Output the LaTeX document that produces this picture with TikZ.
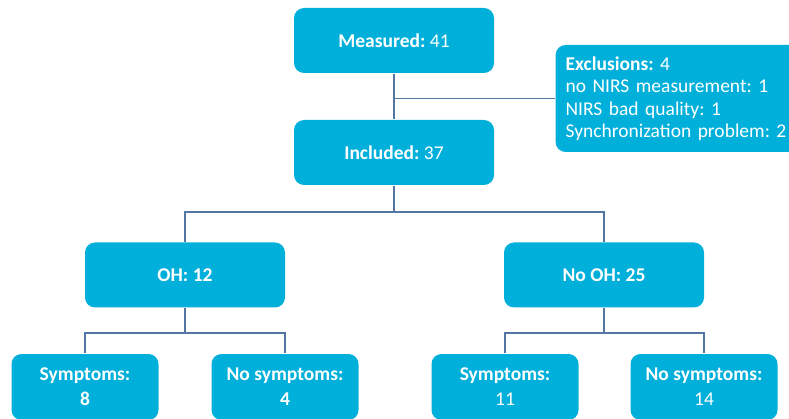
\documentclass[tikz,border=0pt]{standalone}
\usepackage{fontspec}
\setmainfont{Carlito}
\usepackage{xcolor}
\usetikzlibrary{positioning}
\definecolor{boxblue}{RGB}{0,176,219}
\definecolor{linkblue}{RGB}{84,118,165}
\frenchspacing

\begin{document}
\begin{tikzpicture}[x=1pt,y=-1pt,draw=linkblue,line width=1.2pt]
    \tikzstyle{box}=[rectangle,rounded corners=10pt,fill=boxblue,text=white,minimum width=200pt,minimum height=65pt,inner sep=2pt,align=center,font=\fontsize{19.5}{25}\selectfont]
    \tikzstyle{leaf}=[box, minimum width=147pt, minimum height=66pt]
    \tikzstyle{note}=[box, minimum width=0pt, minimum height=107pt, align=left, text width=240pt, inner xsep=10pt, inner ysep=4pt, font=\fontsize{19.5}{22.5}\selectfont]

    \useasboundingbox (0,0) rectangle (789,419);

    \node[box] (meas) at (394,40.5) {\textbf{Measured:} 41};
    \node[box] (incl) at (394,152.5) {\textbf{Included:} 37};
    \node[note, anchor=west] (excl) at (555,98.5) {\textbf{Exclusions:} 4\\no NIRS measurement: 1\\NIRS bad quality: 1\\Synchronization problem: 2};

    \node[box] (oh) at (185,275) {\textbf{OH: 12}};
    \node[box] (nooh) at (604,275) {\textbf{No OH: 25}};

    \node[leaf] (oh-s) at (85,387) {\textbf{Symptoms:}\\\textbf{8}};
    \node[leaf] (oh-n) at (285,387) {\textbf{No symptoms:}\\\textbf{4}};
    \node[leaf] (nooh-s) at (505,387) {\textbf{Symptoms:}\\11};
    \node[leaf] (nooh-n) at (704,387) {\textbf{No symptoms:}\\14};

    \coordinate (split0) at (394,212);
    \coordinate (split1) at (185,333);
    \coordinate (split2) at (604,333);

    \draw (meas.south) -- (incl.north);
    \draw (excl.west) -- (excl.west -| meas.south);
    \draw (incl.south) -- (split0);
    \draw (oh.north) |- (split0) -| (nooh.north);
    \draw (oh.south) -- (split1);
    \draw (oh-s.north) |- (split1) -| (oh-n.north);
    \draw (nooh.south) -- (split2);
    \draw (nooh-s.north) |- (split2) -| (nooh-n.north);
\end{tikzpicture}
\end{document}
